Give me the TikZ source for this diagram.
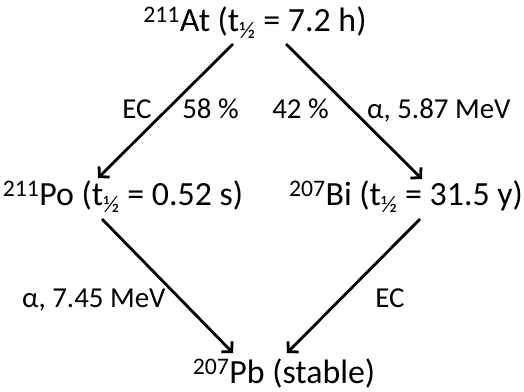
\documentclass[tikz,border=0pt]{standalone}
\usepackage{fontspec}
\setmainfont{Carlito}
\usetikzlibrary{arrows.meta}
\tikzset{
  nuc/.style={anchor=base, inner sep=0pt, font=\fontsize{34}{38}\selectfont},
  lbl/.style={anchor=base, inner sep=0pt, font=\fontsize{29}{33}\selectfont},
  decay/.style={line width=2.8bp, -{Straight Barb[length=7bp, width=15bp, line width=2.8bp]}}
}
\newcommand{\half}{\textsubscript{½}}
\begin{document}
\begin{tikzpicture}[x=1bp, y=1bp]
\useasboundingbox (0,0) rectangle (524,391);
\node[nuc] (at) at (255,360) {\textsuperscript{211}At (t\half\ = 7.2 h)};
\node[nuc] (po) at (123,186) {\textsuperscript{211}Po (t\half\ = 0.52 s)};
\node[nuc] (bi) at (406,186) {\textsuperscript{207}Bi (t\half\ = 31.5 y)};
\node[nuc] (pb) at (284,8) {\textsuperscript{207}Pb (stable)};
\node[lbl] (ec1) at (137,273) {EC};
\node[lbl] (p58) at (210.5,273) {58 \%};
\node[lbl] (p42) at (300.5,273) {42 \%};
\node[lbl, anchor=base west] (al1) at (367,273) {α, 5.87 MeV};
\node[lbl, anchor=base west] (al2) at (22,84) {α, 7.45 MeV};
\node[lbl] (ec2) at (390,84) {EC};
\coordinate (a1) at (233,347);
\coordinate (a2) at (286,347);
\coordinate (p1) at (98,213);
\coordinate (b1) at (422,212);
\coordinate (p2) at (102,172);
\coordinate (b2) at (420,172);
\coordinate (c1) at (233,38);
\coordinate (c2) at (287,38);
\draw[decay] (a1) -- (p1);
\draw[decay] (a2) -- (b1);
\draw[decay] (p2) -- (c1);
\draw[decay] (b2) -- (c2);
\end{tikzpicture}
\end{document}
